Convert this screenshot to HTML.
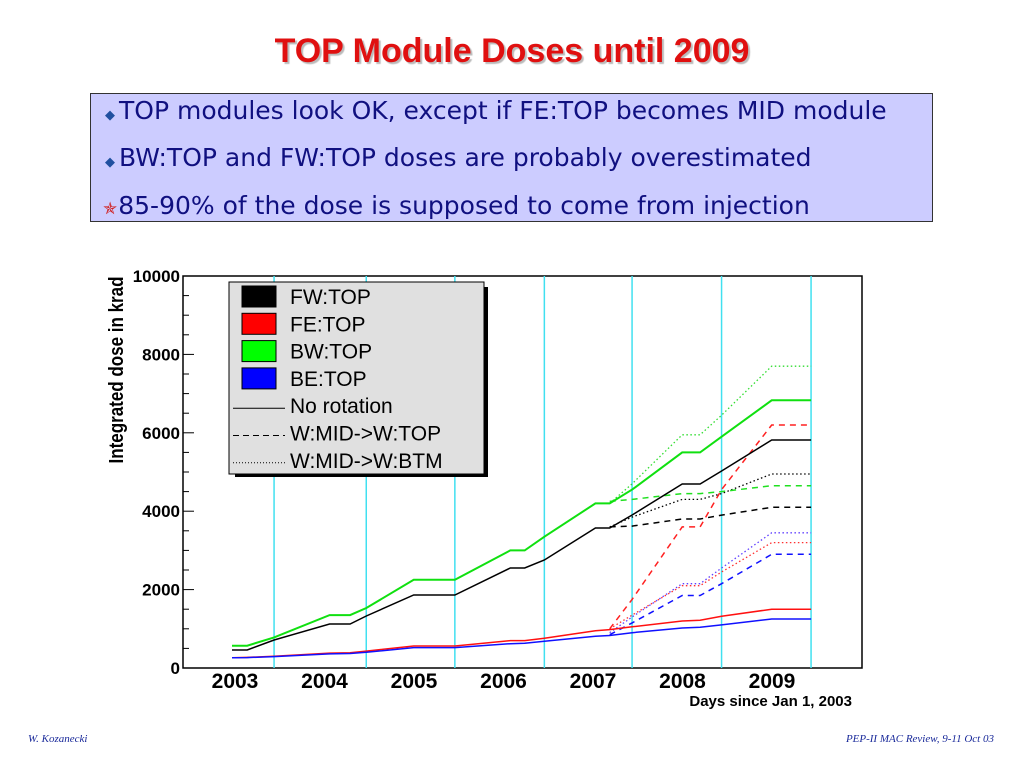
<!DOCTYPE html>
<html><head><meta charset="utf-8">
<style>
body{margin:0;width:1024px;height:768px;background:#fff;position:relative;overflow:hidden;font-family:"Liberation Sans",sans-serif}
#title{position:absolute;left:0;width:1024px;top:32px;text-align:center;font-size:34px;font-weight:bold;color:#e01010;text-shadow:2px 2px 1px #bbb}
#box{position:absolute;left:90px;top:93px;width:841px;height:127px;background:#ccccff;border:1px solid #333}
.bl{position:absolute;left:14px;font-family:"DejaVu Sans",sans-serif;font-size:25px;color:#101080}
.bl span{font-size:13px;color:#2050a0;margin-right:4px}
.foot{position:absolute;top:733px;font-family:"Liberation Serif",serif;font-style:italic;font-size:11px;color:#1a2a9a}
</style></head><body>
<div id="title">TOP Module Doses until 2009</div>
<div id="box">
<div class="bl" style="top:2px"><span>◆</span>TOP modules look OK, except if FE:TOP becomes MID module</div>
<div class="bl" style="top:49px"><span>◆</span>BW:TOP and FW:TOP doses are probably overestimated</div>
<div class="bl" style="top:97px;left:12px"><span style="color:#d02020;font-size:17px;margin-right:1px">✯</span>85-90% of the dose is supposed to come from injection</div>
</div>
<svg id="chart" width="1024" height="768" style="position:absolute;left:0;top:0"></svg>
<div class="foot" style="left:28px">W. Kozanecki</div>
<div class="foot" style="right:30px">PEP-II MAC Review, 9-11 Oct 03</div>
<script>
const years=["2003","2004","2005","2006","2007","2008","2009"];
const yTicks=[0,2000,4000,6000,8000,10000];
const cyanLines=[0.47,1.5,2.49,3.49,4.47,5.47,6.47];
const tMain=[0,0.17,0.47,1.09,1.32,1.5,2.03,2.49,3.11,3.27,3.49,4.06,4.22,4.47,5.03,5.23,5.47,6.03,6.47];
const fwTop=[459,459,714,1122,1122,1327,1862,1862,2551,2551,2755,3571,3571,3903,4694,4694,5026,5816,5816];
const bwTop=[570,570,780,1350,1350,1530,2250,2250,3000,3000,3350,4200,4200,4550,5500,5500,5900,6830,6830];
const feTop=[260,270,300,380,390,430,560,560,700,700,760,950,980,1050,1200,1220,1320,1500,1500];
const beTop=[260,265,290,360,370,400,520,520,620,630,680,810,830,900,1020,1040,1100,1250,1250];
const tRot=[4.22,4.47,5.03,5.23,5.47,6.03,6.47];
const fwDash=[3600,3620,3800,3800,3900,4100,4100];
const bwDash=[4250,4300,4450,4450,4500,4650,4650];
const feDash=[1000,1750,3600,3600,4550,6200,6200];
const beDash=[850,1150,1850,1850,2150,2900,2900];
const fwDot=[3600,3850,4300,4300,4450,4950,4950];
const bwDot=[4200,4700,5950,5950,6450,7700,7700];
const feDot=[1000,1350,2100,2100,2450,3200,3200];
const beDot=[900,1300,2150,2150,2550,3450,3450];

const svg=document.getElementById('chart');const NS='http://www.w3.org/2000/svg';
const L=183,R=862,T=276,B=668;
const X=t=>232+t*89.5;const Y=v=>B-(v/10000)*(B-T);
function mk(tag,a,p){const e=document.createElementNS(NS,tag);for(const k in a)e.setAttribute(k,a[k]);(p||svg).appendChild(e);return e;}
let e=mk('rect',{x:L,y:T,width:R-L,height:B-T,fill:'#fff',stroke:'#000','stroke-width':1.5});


cyanLines.forEach(c=>{const l=mk('line',{x1:X(c),x2:X(c),y1:T,y2:B,stroke:'#40e0f0','stroke-width':1.5});

});
for(let v=0;v<=10000;v+=500){const major=v%2000===0;mk('line',{x1:L,x2:L+(major?11:6),y1:Y(v),y2:Y(v),stroke:'#000'});}
yTicks.forEach(v=>{const t=mk('text',{x:L-3,y:Y(v)+6,'text-anchor':'end','font-size':17,'font-weight':'bold'});t.textContent=v;

});
years.forEach((y,i)=>{const t=mk('text',{x:X(i)+3,y:688,'text-anchor':'middle','font-size':21,'font-weight':'bold'});t.textContent=y;

});
e=mk('text',{x:852,y:706,'text-anchor':'end','font-size':15,'font-weight':'bold'});e.textContent='Days since Jan 1, 2003';


e=mk('text',{x:0,y:0,'text-anchor':'middle','font-size':20,'font-weight':'bold',transform:'translate(123,370) rotate(-90) scale(0.85,1)'});e.textContent='Integrated dose in krad';


function line(ts,vs,col,dash,w,name){const d=ts.map((t,i)=>(i?'L':'M')+X(t).toFixed(1)+' '+Y(vs[i]).toFixed(1)).join('');
const p=mk('path',{d:d,fill:'none',stroke:col,'stroke-width':w,'stroke-dasharray':dash});

}
line(tRot,feDot,'#ff3030','1.5 2.5',1.3,'fe-top-btm-line');
line(tRot,beDot,'#6040ff','1.5 2.5',1.3,'be-top-btm-line');
line(tRot,fwDot,'#000','1.5 2.5',1.3,'fw-top-btm-line');
line(tRot,bwDot,'#30dd30','1.5 2.5',1.3,'bw-top-btm-line');
line(tRot,fwDash,'#000','6 5',1.5,'fw-top-mid-line');
line(tRot,bwDash,'#20e020','6 5',1.5,'bw-top-mid-line');
line(tRot,feDash,'#ff2020','6 5',1.5,'fe-top-mid-line');
line(tRot,beDash,'#1010ff','6 5',1.5,'be-top-mid-line');
line(tMain,feTop,'#ff1010','',1.5,'fe-top-line');
line(tMain,beTop,'#1010ff','',1.5,'be-top-line');
line(tMain,fwTop,'#000','',1.5,'fw-top-line');
line(tMain,bwTop,'#10e010','',2,'bw-top-line');
const g=mk('g',{});


mk('rect',{x:235,y:287,width:253,height:190,fill:'#000'},g);
mk('rect',{x:229,y:282,width:255,height:192,fill:'#e0e0e0',stroke:'#000'},g);
const labels=['FW:TOP','FE:TOP','BW:TOP','BE:TOP','No rotation','W:MID->W:TOP','W:MID->W:BTM'];
const cols=['#000','#ff0000','#00ff00','#0000ff'];
const dashes=['','6 4','1 2'];
labels.forEach((s,i)=>{const y=294+i*27.3;
if(i<4){mk('rect',{x:242,y:y-8,width:34,height:21,fill:cols[i],stroke:'#000'},g);}
else{mk('line',{x1:233,x2:285,y1:y+5,y2:y+5,stroke:'#000','stroke-width':1,'stroke-dasharray':dashes[i-4]},g);}
const t=mk('text',{x:290,y:y+10,'font-size':21},g);t.textContent=s;

});
</script>
</body></html>
